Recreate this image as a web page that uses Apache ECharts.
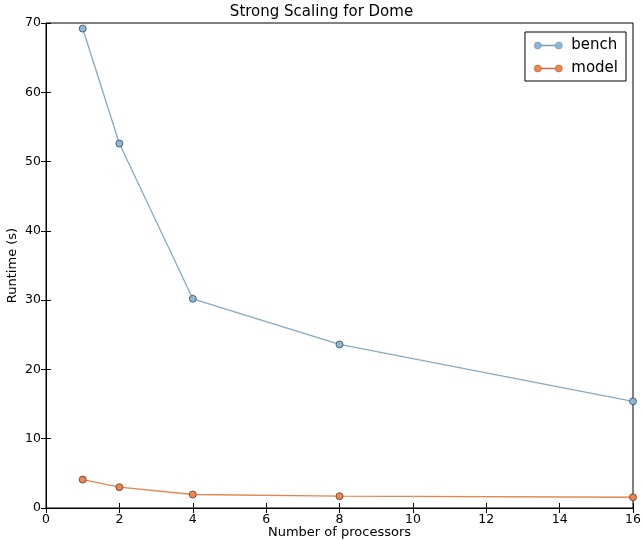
<!DOCTYPE html>
<html>
<head>
<meta charset="utf-8">
<script src="https://cdn.jsdelivr.net/npm/echarts@6/dist/echarts.min.js"></script>
<style>
  html, body { margin: 0; padding: 0; background: #fff; }
  #main { width: 643px; height: 540px; }
</style>
</head>
<body>
<div id="main"></div>
<script>
// Strong scaling chart

var processors = [1, 2, 4, 8, 16];
var benchRuntime = [69.2, 52.6, 30.2, 23.6, 15.4];
var modelRuntime = [4.1, 3.0, 1.95, 1.7, 1.55];

var chart = echarts.init(document.getElementById('main'));

function pairs(xs, ys) {
    return xs.map(function (x, i) { return [x, ys[i]]; });
}

// circle - line - circle, like the matplotlib legend handle
var legendIcon = 'path://M0,5a3.5,3.5 0 1,0 7,0a3.5,3.5 0 1,0 -7,0M7,4.6L21,4.6L21,5.4L7,5.4ZM21,5a3.5,3.5 0 1,0 7,0a3.5,3.5 0 1,0 -7,0';

var font = 'DejaVu Sans';

var tickStyle = { inside: true, length: 5, lineStyle: { color: '#000', width: 1 } };

var option = {
    backgroundColor: '#fff',
    animation: false,
    textStyle: { fontFamily: font },
    title: {
        text: 'Strong Scaling for Dome',
        left: 'center',
        top: 0,
        textStyle: { fontFamily: font, fontSize: 15, fontWeight: 'normal', color: '#000' }
    },
    legend: {
        right: 17,
        top: 32,
        orient: 'vertical',
        icon: legendIcon,
        itemWidth: 28,
        itemHeight: 10,
        itemGap: 8,
        padding: [6, 8, 5, 9],
        borderColor: '#000',
        borderWidth: 1,
        textStyle: { fontFamily: font, fontSize: 15, color: '#000', padding: [0, 0, 0, 4] },
        data: [
            { name: 'bench', itemStyle: { borderColor: '#6f8fa5', borderWidth: 0.6 } },
            { name: 'model', itemStyle: { borderColor: '#b5603a', borderWidth: 0.6 } }
        ]
    },
    grid: {
        left: 46,
        right: 10,
        top: 23,
        bottom: 32,
        outerBoundsMode: 'none',
        containLabel: false,
        show: true,
        borderColor: '#000',
        borderWidth: 1
    },
    xAxis: [
        {
            type: 'value',
            min: 0,
            max: 16,
            interval: 2,
            name: 'Number of processors',
            nameLocation: 'middle',
            nameGap: 18,
            nameMoveOverlap: false,
            nameTextStyle: { fontFamily: font, fontSize: 13, color: '#000' },
            axisLine: { lineStyle: { color: '#000' } },
            axisTick: tickStyle,
            axisLabel: { color: '#000', fontSize: 12.5, margin: 5 },
            splitLine: { show: false }
        },
        {
            type: 'value',
            position: 'top',
            min: 0,
            max: 16,
            interval: 2,
            axisLine: { show: false },
            axisTick: tickStyle,
            axisLabel: { show: false },
            splitLine: { show: false }
        }
    ],
    yAxis: [
        {
            type: 'value',
            min: 0,
            max: 70,
            interval: 10,
            name: 'Runtime (s)',
            nameLocation: 'middle',
            nameGap: 27,
            nameMoveOverlap: false,
            nameTextStyle: { fontFamily: font, fontSize: 13, color: '#000' },
            axisLine: { show: true, lineStyle: { color: '#000' } },
            axisTick: tickStyle,
            axisLabel: { color: '#000', fontSize: 12.5, margin: 5 },
            splitLine: { show: false }
        },
        {
            type: 'value',
            position: 'right',
            min: 0,
            max: 70,
            interval: 10,
            axisLine: { show: false },
            axisTick: tickStyle,
            axisLabel: { show: false },
            splitLine: { show: false }
        }
    ],
    series: [
        {
            name: 'bench',
            type: 'line',
            data: pairs(processors, benchRuntime),
            symbol: 'circle',
            symbolSize: 7,
            color: '#8ab8d9',
            lineStyle: { color: '#86aac2', width: 1.3 },
            itemStyle: { color: '#8ab8d9', borderColor: '#3a4a55', borderWidth: 0.8 }
        },
        {
            name: 'model',
            type: 'line',
            data: pairs(processors, modelRuntime),
            symbol: 'circle',
            symbolSize: 7,
            color: '#f2844e',
            lineStyle: { color: '#e8844f', width: 1.3 },
            itemStyle: { color: '#f2844e', borderColor: '#5a3a2a', borderWidth: 0.8 }
        }
    ]
};

chart.setOption(option);
</script>
</body>
</html>
